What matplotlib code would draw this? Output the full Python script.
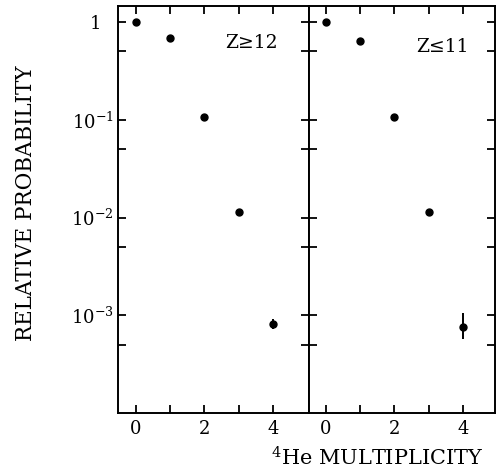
import matplotlib
matplotlib.use("Agg")
import matplotlib.pyplot as plt
from matplotlib.ticker import FixedLocator, NullFormatter
import numpy as np

plt.rcParams['font.family'] = ['DejaVu Serif']
plt.rcParams['mathtext.fontset'] = 'dejavuserif'

# data
mult = [0, 1, 2, 3, 4]
prob_z_ge12 = [1.0, 0.68, 0.108, 0.0114, 8.1e-4]
err_lo_z_ge12 = [0, 0, 0, 0, 0.9e-4]
err_up_z_ge12 = [0, 0, 0, 0, 1.0e-4]
prob_z_le11 = [1.0, 0.64, 0.108, 0.0113, 7.6e-4]
err_lo_z_le11 = [0, 0, 0, 0, 1.9e-4]
err_up_z_le11 = [0, 0, 0, 0, 2.9e-4]
panel_labels = ['Z\u226512', 'Z\u226411']
yticks = [1, 1e-1, 1e-2, 1e-3]
yticklabels = ['1\u2002\u2009', r'$10^{-1}$', r'$10^{-2}$', r'$10^{-3}$']

fig = plt.figure(figsize=(4.97, 4.71), dpi=100)
W, H = 497.0, 471.0
bot = 1 - 413 / H
top = 1 - 6 / H
ax0 = fig.add_axes([118 / W, bot, (309 - 118) / W, top - bot])
ax1 = fig.add_axes([309 / W, bot, (495 - 309) / W, top - bot])

series = [(prob_z_ge12, err_lo_z_ge12, err_up_z_ge12),
          (prob_z_le11, err_lo_z_le11, err_up_z_le11)]
xlims = [(-0.52, 5.05), (-0.49, 4.94)]
text_pos = [(2.62, 0.61), (2.63, 0.555)]

for i, ax in enumerate([ax0, ax1]):
  p, elo, eup = series[i]
  ax.errorbar(mult, p, yerr=[elo, eup], fmt='o', color='black',
              ms=5, elinewidth=1.4, capsize=0)
  ax.set_yscale('log')
  ax.set_ylim(1e-4, 1.46)
  ax.set_xlim(*xlims[i])
  ax.yaxis.set_major_locator(FixedLocator(yticks))
  ax.yaxis.set_minor_locator(FixedLocator([5e-1, 5e-2, 5e-3, 5e-4]))
  ax.yaxis.set_minor_formatter(NullFormatter())
  ax.set_xticks([0, 2, 4])
  ax.set_xticks([1, 3], minor=True)
  ax.tick_params(which='both', direction='in', length=6, width=1.3,
                 top=True, right=True, labelsize=13)
  for s in ax.spines.values():
    s.set_linewidth(1.4)
  ax.text(text_pos[i][0], text_pos[i][1], panel_labels[i], fontsize=13.5,
          va='center', ha='left')

ax0.set_yticklabels(yticklabels)
ax0.tick_params(axis='y', pad=3)
ax1.tick_params(axis='y', labelleft=False)
ax0.tick_params(axis='x', pad=5)
ax1.tick_params(axis='x', pad=5)

fig.text(26 / W, 1 - 203 / H, 'RELATIVE PROBABILITY', rotation=90,
         ha='center', va='center', fontsize=15.5)
fig.text(377 / W, 1 - 458 / H, r'$^{4}$He MULTIPLICITY',
         ha='center', va='center', fontsize=15)

fig.savefig('out.png', dpi=100)
